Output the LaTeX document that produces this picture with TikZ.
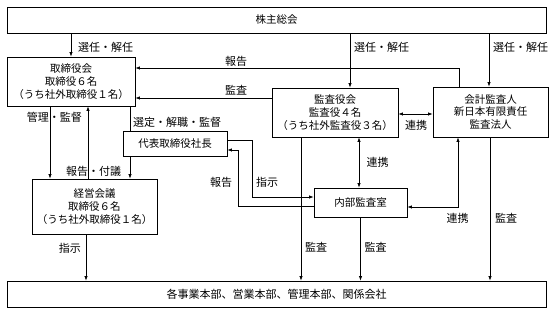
\documentclass[tikz,border=0pt]{standalone}
\usepackage{fontspec}
\newfontfamily\jp{Noto Sans CJK JP}
\usetikzlibrary{arrows.meta,calc}
\begin{document}
\begin{tikzpicture}[x=1pt,y=-1pt,
  jpf/.style={font=\jp\fontsize{10.5}{12.6}\selectfont},
  jpl/.style={font=\jp\fontsize{11}{13}\selectfont},
  box/.style={draw,line width=0.8pt,inner sep=0pt,align=center,jpf},
  lbl/.style={inner sep=0pt,jpl},
  conn/.style={line width=0.7pt},
  arr/.style={conn,-{Latex[length=4.5pt,width=3.4pt]}},
  darr/.style={conn,{Latex[length=4.5pt,width=3.4pt]}-{Latex[length=4.5pt,width=3.4pt]}}]
\useasboundingbox (0,0) rectangle (557,312);

% boxes
\node[box,minimum width=539pt,minimum height=26pt] (kabu) at (276.5,20) {株主総会};
\node[box,minimum width=128pt,minimum height=49pt] (tori) at (71,81.5) {取締役会\\取締役６名\\（うち社外取締役１名）};
\node[box,minimum width=126pt,minimum height=49pt] (kansa) at (335,112.5) {監査役会\\監査役４名\\（うち社外監査役３名）};
\node[box,minimum width=115pt,minimum height=50pt] (kaikei) at (490.5,112) {会計監査人\\新日本有限責任\\監査法人};
\node[box,minimum width=104pt,minimum height=25pt] (daihyo) at (175,143.5) {代表取締役社長};
\node[box,minimum width=125pt,minimum height=55pt] (keiei) at (94.5,206.5) {経営会議\\取締役６名\\（うち社外取締役１名）};
\node[box,minimum width=93pt,minimum height=29pt] (naibu) at (360.5,202.5) {内部監査室};
\node[box,jpl,minimum width=539pt,minimum height=26pt] (bot) at (276.5,294) {各事業本部、営業本部、管理本部、関係会社};

% helper coordinates
\coordinate (x50) at (50,0);
\coordinate (x88) at (88,0);
\coordinate (x130) at (130,0);
\coordinate (x350) at (350,0);
\coordinate (x459) at (459,0);
\coordinate (x489) at (489,0);
\coordinate (x301) at (301,0);
\coordinate (x359) at (359,0);
\coordinate (x458) at (458,0);
\coordinate (x490) at (490,0);
\coordinate (x86) at (86,0);
\coordinate (x252) at (252,0);
\coordinate (x238) at (238,0);
\coordinate (y68) at (0,68);
\coordinate (y98) at (0,98);
\coordinate (y114) at (0,114);
\coordinate (y140) at (0,140);
\coordinate (y150) at (0,150);
\coordinate (y197) at (0,197);
\coordinate (y206) at (0,206);
\coordinate (y207) at (0,207);

% connectors
\draw[arr] (kabu.south -| tori.north) -- (tori.north);
\draw[arr] (kabu.south -| x350) -- (kansa.north -| x350);
\draw[arr] (kabu.south -| x489) -- (kaikei.north -| x489);
\draw[arr] (kaikei.north -| x459) |- (tori.east |- y68);
\draw[arr] (kansa.west |- y98) -- (tori.east |- y98);
\draw[arr] (tori.south -| x50) -- (keiei.north -| x50);
\draw[arr] (keiei.north -| x88) -- (tori.south -| x88);
\draw[conn] (tori.south -| x130) -- (daihyo.north -| x130);
\draw[arr] (daihyo.south -| x130) -- (keiei.north -| x130);
\draw[arr] (daihyo.east |- y140) -| (x252 |- y197) -- (naibu.west |- y197);
\draw[arr] (naibu.west |- y206) -| (x238 |- y150) -- (daihyo.east |- y150);
\draw[darr] (kansa.east |- y114) -- (kaikei.west |- y114);
\draw[darr] (kansa.south -| x359) -- (naibu.north -| x359);
\draw[darr] (kaikei.south -| x458) |- (naibu.east |- y207);
\draw[arr] (kansa.south -| x301) -- (bot.north -| x301);
\draw[arr] (naibu.south) -- (bot.north -| naibu.south);
\draw[arr] (kaikei.south -| x490) -- (bot.north -| x490);
\draw[arr] (keiei.south -| x86) -- (bot.north -| x86);

% labels
\node[lbl,anchor=west] (l1) at (78,47) {選任・解任};
\node[lbl,anchor=west] (l2) at (354,47) {選任・解任};
\node[lbl,anchor=west] (l3) at (493,47) {選任・解任};
\node[lbl] (l4) at (236,61) {報告};
\node[lbl] (l5) at (236,90) {監査};
\node[lbl] (l6) at (54.5,117) {管理・監督};
\node[lbl,anchor=west] (l7) at (133,122) {選定・解職・監督};
\node[lbl] (l8) at (93.5,171) {報告・付議};
\node[lbl] (l9) at (221,182) {報告};
\node[lbl] (l10) at (267,182) {指示};
\node[lbl] (l11) at (416,125) {連携};
\node[lbl] (l12) at (377.5,162) {連携};
\node[lbl] (l13) at (457.5,218) {連携};
\node[lbl] (l14) at (506,218) {監査};
\node[lbl] (l15) at (316,247) {監査};
\node[lbl] (l16) at (375.5,247) {監査};
\node[lbl,anchor=east] (l17) at (81,248) {指示};
\end{tikzpicture}
\end{document}
